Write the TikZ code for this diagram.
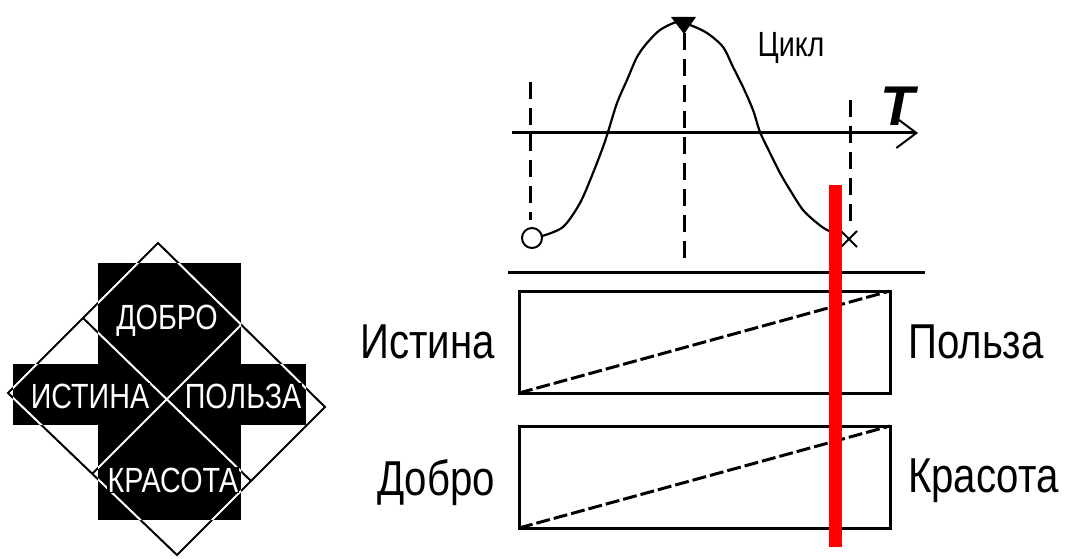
\documentclass[tikz,border=0pt]{standalone}
\usepackage{fontspec}
\newfontfamily\narrowsans[FakeStretch=0.82]{Liberation Sans}
\newfontfamily\plainsans{Liberation Sans}
\usetikzlibrary{positioning, arrows.meta, shapes.geometric, shapes.misc}

\begin{document}
\begin{tikzpicture}[x=1pt, y=-1pt,
    crossword/.style={font=\narrowsans\fontsize{35}{40}\selectfont,
                      text=white, fill=black, inner sep=1pt},
    rim/.style={line width=2pt},
    panel/.style={rectangle, draw, line width=3pt, outer sep=0pt,
                  minimum width=371pt, minimum height=102pt},
    rise/.style={line width=3pt, dash pattern=on 14pt off 4pt},
    lab/.style={font=\narrowsans\fontsize{49}{55}\selectfont, inner sep=0pt},
    guide/.style={line width=3pt, dash pattern=on 17pt off 9pt},
    axis/.style={line width=3pt, -{Straight Barb[length=20pt, width=30pt, line width=2pt]}},
    wave/.style={line width=2.2pt},
    cut/.style={line width=13pt, red}
]
\useasboundingbox (0,0) rectangle (1068,559);

% cross with the four words
\coordinate (dT) at (158,243);
\coordinate (dR) at (325,407);
\coordinate (dB) at (177,555);
\coordinate (dL) at (8,393);
\coordinate (mTL) at (83,318);
\coordinate (mBR) at (251,481);
\coordinate (mTR) at (241,325);
\coordinate (mBL) at (92,474);

\fill (98,263) rectangle (241,520);
\fill (13,364) rectangle (306,425);
\draw[rim] (dT) -- (dR) -- (dB) -- (dL) -- cycle (mTL) -- (mBR) (mTR) -- (mBL);
\begin{scope}
  \clip (98,263) rectangle (241,520) (13,364) rectangle (306,425);
  \draw[rim, white] (dT) -- (dR) -- (dB) -- (dL) -- cycle (mTL) -- (mBR) (mTR) -- (mBL);
\end{scope}

\node[crossword] (dobro)   at (167,321) {ДОБРО};
\node[crossword] (istina)  at (90,396)  {ИСТИНА};
\node[crossword] (polza)   at (243,396) {ПОЛЬЗА};
\node[crossword] (krasota) at (173,480) {КРАСОТА};

% cycle over time
\coordinate (ax0) at (512,133);
\coordinate (ax1) at (918,133);
\draw[axis] (ax0) -- (ax1);
\node[font=\plainsans\bfseries\itshape\fontsize{56}{60}\selectfont, inner sep=0pt]
    (tlab) at (898,106) {T};
\node[font=\narrowsans\fontsize{35}{40}\selectfont, inner sep=0pt]
    (cycle) at (791,48) {Цикл};

\draw[guide] (530,82) -- (530,220);
\draw[guide] (684,33) -- (684,258);
\draw[guide] (850,100) -- (850,222);

\node[circle, draw, line width=2pt, minimum size=20pt, inner sep=0pt] (start) at (532,238) {};
\node[cross out, draw, line width=2pt, minimum size=14pt, inner sep=0pt] (stop) at (849,239) {};
\fill (671,17) -- (696,17) -- (684,34) -- cycle;
\draw[wave] plot[smooth, tension=0.5] coordinates {(542,236) (563,227) (580,203)
    (593,173) (603,147) (608,132) (617,103) (627,80) (637,57) (647,43) (660,30)
    (677,22) (690,25) (707,33) (723,47) (733,67) (743,87) (753,110) (760,132)
    (770,153) (780,173) (790,190) (803,210) (817,223) (827,230) (842,236)};

\draw[line width=3pt] (508,272) -- (925,272);

% scales
\node[panel] (truth) at (704.5,342) {};
\node[panel, below=33pt of truth] (good) {};
\draw[rise] (truth.south west) -- (truth.north east);
\draw[rise] (good.south west) -- (good.north east);

\node[lab, left=24pt of truth] {Истина};
\node[lab, right=18pt of truth] {Польза};
\node[lab, left=24pt of good, yshift=-6pt] {Добро};
\node[lab, right=18pt of good, yshift=-4pt] {Красота};

\coordinate (cutTop) at (835,185);
\coordinate (cutBot) at (835,547);
\draw[cut] (cutTop) -- (cutBot);

\end{tikzpicture}
\end{document}
